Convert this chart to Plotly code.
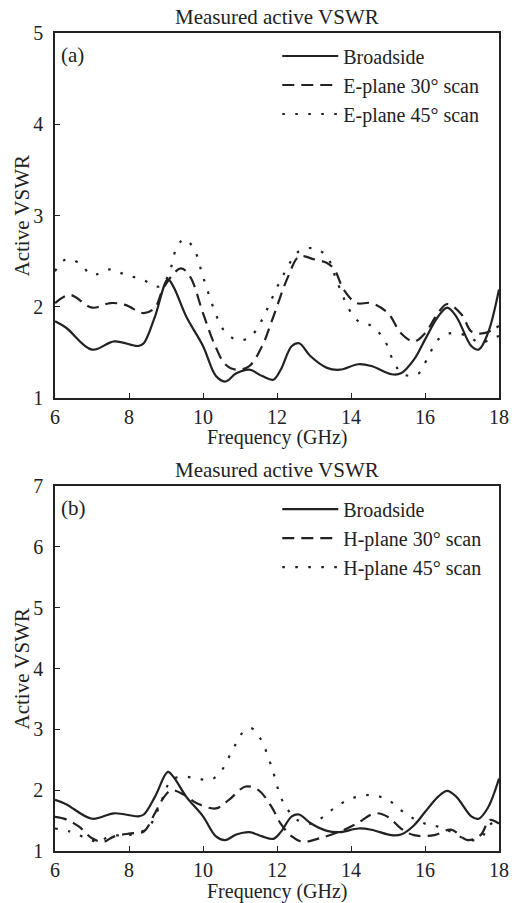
import plotly.graph_objects as go

# ---------------- data ----------------
broad_x = [6.0, 6.3, 7.0, 7.6, 8.25, 8.4, 8.7, 9.05, 9.2, 9.55, 10.0, 10.35, 10.6, 10.9, 11.25,
           11.6, 11.9, 12.1, 12.4, 12.6, 12.9, 13.35, 13.7, 14.2, 14.55, 15.1, 15.35, 15.7,
           16.0, 16.35, 16.6, 16.85, 17.25, 17.45, 17.7, 18.0]
broad_y = [1.84, 1.77, 1.53, 1.62, 1.57, 1.60, 1.89, 2.30, 2.22, 1.89, 1.57, 1.24, 1.18, 1.27, 1.31,
           1.24, 1.20, 1.31, 1.57, 1.60, 1.46, 1.33, 1.31, 1.37, 1.35, 1.26, 1.27, 1.42,
           1.64, 1.89, 1.99, 1.89, 1.57, 1.53, 1.71, 2.19]

e30_x = [6.0, 6.4, 7.0, 7.5, 7.9, 8.4, 8.7, 8.95, 9.4, 9.65, 10.0, 10.3, 10.6, 10.9, 11.25, 11.6,
         11.9, 12.3, 12.6, 13.0, 13.35, 13.55, 13.8, 14.15, 14.55, 15.0, 15.35, 15.7, 16.0,
         16.35, 16.6, 17.0, 17.25, 17.6, 18.0]
e30_y = [2.04, 2.13, 1.99, 2.04, 2.02, 1.93, 1.99, 2.22, 2.42, 2.33, 1.93, 1.60, 1.37, 1.31, 1.35, 1.57,
         1.89, 2.33, 2.55, 2.52, 2.48, 2.41, 2.19, 2.04, 2.04, 1.93, 1.71, 1.62, 1.71,
         1.93, 2.03, 1.91, 1.73, 1.71, 1.79]

e45_x = [6.0, 6.3, 6.65, 7.0, 7.5, 7.9, 8.35, 8.8, 9.05, 9.3, 9.5, 9.75, 10.0, 10.3, 10.55, 10.9,
         11.25, 11.6, 11.85, 12.2, 12.6, 13.0, 13.35, 13.6, 13.95, 14.2, 14.55, 14.9, 15.15,
         15.4, 15.8, 16.05, 16.35, 16.7, 17.15, 17.5, 17.75, 18.0]
e45_y = [2.39, 2.52, 2.48, 2.35, 2.41, 2.35, 2.30, 2.22, 2.33, 2.66, 2.74, 2.64, 2.33, 1.97, 1.75, 1.64,
         1.66, 1.86, 2.08, 2.37, 2.61, 2.64, 2.55, 2.30, 1.97, 1.84, 1.79, 1.64, 1.40,
         1.26, 1.26, 1.42, 1.64, 1.71, 1.68, 1.60, 1.64, 1.68]

h30_x = [6.0, 6.3, 6.65, 7.0, 7.3, 7.6, 8.05, 8.4, 8.7, 8.95, 9.15, 9.5, 9.85, 10.35, 10.7, 11.15,
         11.5, 11.85, 12.1, 12.4, 12.7, 13.15, 13.7, 14.15, 14.65, 15.0, 15.35, 15.7, 16.25,
         16.7, 17.15, 17.5, 17.75, 18.0]
h30_y = [1.56, 1.52, 1.40, 1.21, 1.15, 1.24, 1.29, 1.32, 1.62, 1.89, 2.00, 1.92, 1.78, 1.70, 1.84, 2.06,
         2.00, 1.73, 1.45, 1.24, 1.15, 1.21, 1.32, 1.45, 1.62, 1.56, 1.37, 1.26, 1.26,
         1.35, 1.18, 1.26, 1.51, 1.45]

h45_x = [6.0, 6.4, 6.85, 7.2, 7.45, 7.9, 8.25, 8.6, 8.85, 9.15, 9.5, 9.85, 10.2, 10.45, 10.8, 11.05,
         11.3, 11.55, 11.85, 12.1, 12.3, 12.55, 12.9, 13.25, 13.6, 14.05, 14.55, 15.0, 15.35,
         15.7, 16.0, 16.35, 16.8, 17.15, 17.5, 17.75, 18.0]
h45_y = [1.37, 1.32, 1.21, 1.15, 1.24, 1.26, 1.29, 1.45, 1.78, 2.17, 2.22, 2.19, 2.17, 2.28, 2.66, 2.93,
         3.02, 2.85, 2.39, 1.89, 1.67, 1.51, 1.45, 1.56, 1.73, 1.87, 1.92, 1.84, 1.67,
         1.53, 1.45, 1.40, 1.29, 1.18, 1.21, 1.43, 1.51]

x_ticks = [6, 8, 10, 12, 14, 16, 18]
y_ticks_a = [1, 2, 3, 4, 5]
y_ticks_b = [1, 2, 3, 4, 5, 6, 7]

title_text = "Measured active VSWR"
x_title = "Frequency (GHz)"
y_title = "Active VSWR"
names_a = ["Broadside", "E-plane 30° scan", "E-plane 45° scan"]
names_b = ["Broadside", "H-plane 30° scan", "H-plane 45° scan"]

# ---------------- style ----------------
FONT = "Liberation Serif"
FS = 21
TFS = 20
INK = "#222222"
W = 2.2
DASH = "12px,7px"
DOT = "2.6px,10.4px"

fig = go.Figure()

def add(x, y, name, dash, xa, ya, leg):
    fig.add_trace(go.Scatter(
        x=x, y=y, name=name, mode="lines", line_shape="spline",
        line=dict(color=INK, width=W, dash=dash, smoothing=1.0),
        xaxis=xa, yaxis=ya, legend=leg))

add(broad_x, broad_y, names_a[0], "solid", "x", "y", "legend")
add(e30_x, e30_y, names_a[1], DASH, "x", "y", "legend")
add(e45_x, e45_y, names_a[2], DOT, "x", "y", "legend")
add(broad_x, broad_y, names_b[0], "solid", "x2", "y2", "legend2")
add(h30_x, h30_y, names_b[1], DASH, "x2", "y2", "legend2")
add(h45_x, h45_y, names_b[2], DOT, "x2", "y2", "legend2")

axis_common = dict(
    showgrid=False, zeroline=False, showline=True, linecolor=INK, linewidth=1.5,
    mirror=True, ticks="inside", ticklen=5, tickwidth=1.2, tickcolor=INK,
    tickfont=dict(family=FONT, size=TFS, color=INK),
)

fig.update_layout(
    width=521, height=903,
    margin=dict(l=55, r=12, t=33, b=52),
    paper_bgcolor="white", plot_bgcolor="white",
    font=dict(family=FONT, size=FS, color=INK),
    xaxis=dict(range=[6, 18], tickvals=x_ticks, anchor="y", domain=[0, 1],
               ticklabelstandoff=0, **axis_common),
    yaxis=dict(range=[1, 5], tickvals=y_ticks_a, anchor="x", domain=[0.5538, 1],
               ticklabelstandoff=6, **axis_common),
    xaxis2=dict(range=[6, 18], tickvals=x_ticks, anchor="y2", domain=[0, 1],
                ticklabelstandoff=0, **axis_common),
    yaxis2=dict(range=[1, 7], tickvals=y_ticks_b, anchor="x2", domain=[0, 0.4462],
                ticklabelstandoff=6, **axis_common),
    legend=dict(x=0.5006, y=0.9957, xanchor="left", yanchor="top", bgcolor="rgba(0,0,0,0)",
                font=dict(family=FONT, size=20, color=INK), tracegroupgap=0, itemwidth=56),
    legend2=dict(x=0.5006, y=0.4419, xanchor="left", yanchor="top", bgcolor="rgba(0,0,0,0)",
                 font=dict(family=FONT, size=20, color=INK), tracegroupgap=0, itemwidth=56),
    showlegend=True,
)

annotations = []
for xa, ya, tag in [("x", "y", "(a)"), ("x2", "y2", "(b)")]:
    annotations.append(dict(text=title_text, xref=f"{xa} domain", yref=f"{ya} domain",
                            x=0.5, y=1, xanchor="center", yanchor="bottom", yshift=2,
                            showarrow=False, font=dict(family=FONT, size=FS, color=INK)))
    annotations.append(dict(text=x_title, xref=f"{xa} domain", yref=f"{ya} domain",
                            x=0.5, y=0, xanchor="center", yanchor="middle", yshift=-40,
                            showarrow=False, font=dict(family=FONT, size=TFS, color=INK)))
    annotations.append(dict(text=y_title, xref=f"{xa} domain", yref=f"{ya} domain",
                            x=0, y=0.5, xanchor="center", yanchor="middle", xshift=-33,
                            textangle=-90, showarrow=False,
                            font=dict(family=FONT, size=FS, color=INK)))
    annotations.append(dict(text=tag, xref=f"{xa} domain", yref=f"{ya} domain",
                            x=0, y=1, xanchor="left", yanchor="top", xshift=4, yshift=-8,
                            showarrow=False, font=dict(family=FONT, size=FS, color=INK)))
fig.update_layout(annotations=annotations)

fig.write_html("out.html")
